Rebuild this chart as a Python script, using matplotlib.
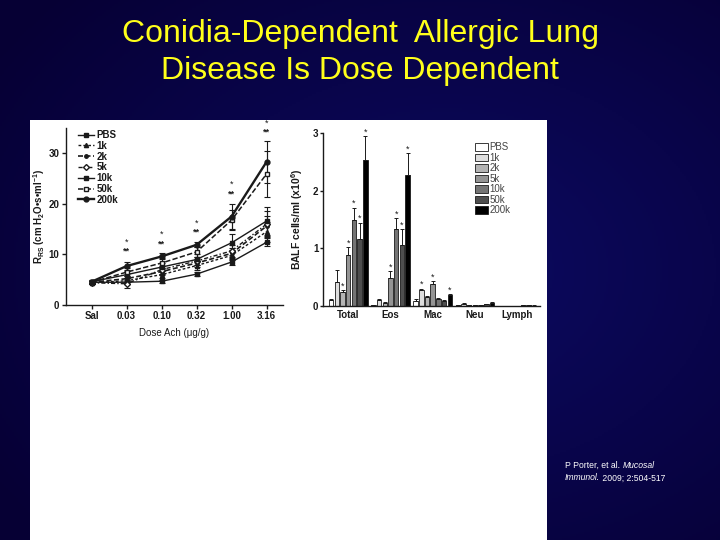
import numpy as np
import matplotlib
matplotlib.use("Agg")
import matplotlib.pyplot as plt
from matplotlib.patches import Rectangle, Patch
from matplotlib.lines import Line2D

plt.rcParams['font.family'] = ['Liberation Sans', 'DejaVu Sans']
plt.rcParams['mathtext.fontset'] = 'custom'
plt.rcParams['mathtext.rm'] = 'Liberation Sans:bold'
plt.rcParams['mathtext.bf'] = 'Liberation Sans:bold'
plt.rcParams['mathtext.it'] = 'Liberation Sans:bold:italic'

# ---------------- data ----------------
title_lines = ["Conidia-Dependent  Allergic Lung", "Disease Is Dose Dependent"]

doses = ['Sal', '0.03', '0.10', '0.32', '1.00', '3.16']
series_names = ['PBS', '1k', '2k', '5k', '10k', '50k', '200k']
rrs_pbs = [4.5, 4.5, 4.7, 6.1, 8.5, 12.4]
rrs_1k = [4.4, 4.8, 6.0, 7.8, 9.8, 14.5]
rrs_2k = [4.5, 5.2, 6.6, 8.3, 10.2, 15.6]
rrs_5k = [4.4, 4.2, 7.0, 8.7, 10.7, 16.0]
rrs_10k = [4.6, 6.0, 7.5, 9.0, 12.3, 16.6]
rrs_50k = [4.5, 6.5, 8.3, 10.5, 16.8, 25.9]
rrs_200k = [4.6, 7.7, 9.6, 11.9, 17.5, 28.3]
err_pbs = [0.3, 0.3, 0.3, 0.4, 0.5, 0.8]
err_1k = [0.3, 0.6, 0.7, 0.8, 1.0, 2.0]
err_2k = [0.3, 0.6, 0.7, 0.8, 1.0, 2.0]
err_5k = [0.3, 0.8, 0.8, 0.8, 1.2, 2.5]
err_10k = [0.3, 0.7, 0.8, 1.0, 1.7, 2.7]
err_50k = [0.3, 0.8, 1.0, 1.0, 2.0, 4.5]
err_200k = [0.3, 0.8, 0.6, 0.5, 2.5, 4.1]
star1_y = [12.4, 13.9, 16.2, 23.8, 36.0]
star2_y = [10.6, 12.1, 14.4, 22.0, 34.2]

cells = ['Total', 'Eos', 'Mac', 'Neu', 'Lymph']
bal_pbs = [0.10, 0.01, 0.08, 0.01, 0.003]
bal_1k = [0.41, 0.10, 0.27, 0.04, 0.005]
bal_2k = [0.24, 0.06, 0.16, 0.02, 0.004]
bal_5k = [0.89, 0.48, 0.39, 0.02, 0.005]
bal_10k = [1.50, 1.33, 0.13, 0.02, 0.010]
bal_50k = [1.17, 1.06, 0.09, 0.03, 0.012]
bal_200k = [2.53, 2.27, 0.19, 0.06, 0.008]
balerr_pbs = [0.03, 0.01, 0.04, 0.005, 0.002]
balerr_1k = [0.21, 0.02, 0.03, 0.005, 0.002]
balerr_2k = [0.03, 0.01, 0.02, 0.005, 0.002]
balerr_5k = [0.13, 0.12, 0.04, 0.005, 0.002]
balerr_10k = [0.21, 0.19, 0.01, 0.005, 0.002]
balerr_50k = [0.28, 0.27, 0.01, 0.005, 0.002]
balerr_200k = [0.42, 0.39, 0.01, 0.01, 0.002]
# (cell index, series index) pairs carrying an asterisk
bal_stars = [(0, 2), (0, 3), (0, 4), (0, 5), (0, 6),
             (1, 3), (1, 4), (1, 5), (1, 6),
             (2, 1), (2, 3), (2, 6)]

citation = [("P Porter, et al. ", "Mucosal"), ("Immunol.", " 2009; 2:504-517")]

# ---------------- figure ----------------
fig = plt.figure(figsize=(7.2, 5.4), dpi=100)

# radial-ish navy background
bg = fig.add_axes([0, 0, 1, 1], zorder=-10)
yy, xx = np.mgrid[0:1:270j, 0:1:360j]
r = np.sqrt(((xx - 0.62) / 0.75) ** 2 + ((yy - 0.5) / 0.75) ** 2)
r = np.clip(r, 0, 1)
bright = np.array([12, 10, 98]) / 255.0
dark = np.array([6, 0, 52]) / 255.0
img = bright[None, None, :] * (1 - r[..., None]) + dark[None, None, :] * r[..., None]
bg.imshow(img, aspect='auto', extent=[0, 1, 0, 1], origin='upper')
bg.set_axis_off()

# white picture panel
fig.patches.append(Rectangle((30 / 720, 0), 517 / 720, 420 / 540,
                             transform=fig.transFigure, facecolor='white',
                             edgecolor='none', zorder=-5))

# title
fig.text(0.5, 1 - 34 / 540, title_lines[0], color='#ffff1a', fontsize=23,
         ha='center', va='center')
fig.text(0.5, 1 - 71 / 540, title_lines[1], color='#ffff1a', fontsize=23,
         ha='center', va='center')

# citation
for i, (a, b) in enumerate(citation):
    y = 1 - (465 + 13 * i) / 540
    if i == 0:
        t1 = fig.text(565 / 720, y, a, color='white', fontsize=6.2, va='center')
        plt.annotate(b, xy=(1, 0.5), xycoords=t1, va='center', ha='left',
                     color='white', fontsize=6.2, style='italic')
    else:
        t2 = fig.text(565 / 720, y, a, color='white', fontsize=6.2,
                      va='center', style='italic')
        plt.annotate(b, xy=(1, 0.5), xycoords=t2, va='center', ha='left',
                     color='white', fontsize=6.2)

ink = '#1a1a1a'

# ---------------- left: line chart ----------------
ax1 = fig.add_axes([65.7 / 720, 1 - 305 / 540, (283 - 65.7) / 720, 177 / 540])
x = np.arange(len(doses))
rrs = [rrs_pbs, rrs_1k, rrs_2k, rrs_5k, rrs_10k, rrs_50k, rrs_200k]
errs = [err_pbs, err_1k, err_2k, err_5k, err_10k, err_50k, err_200k]
styles = [
    dict(ls='-', marker='s', mfc=ink, lw=1.0, ms=2.5),
    dict(ls=(0, (2, 1.5)), marker='^', mfc=ink, lw=1.0, ms=3),
    dict(ls=(0, (3, 1.5)), marker='o', mfc=ink, lw=1.2, ms=2.5),
    dict(ls=(0, (3, 1.5, 1, 1.5)), marker='D', mfc='white', lw=1.0, ms=3),
    dict(ls='-', marker='s', mfc=ink, lw=1.0, ms=3),
    dict(ls=(0, (3.5, 1.5)), marker='s', mfc='white', lw=1.1, ms=3.5),
    dict(ls='-', marker='o', mfc=ink, lw=1.7, ms=3.5),
]
handles = []
for name, yv, ev, st in zip(series_names, rrs, errs, styles):
    ax1.errorbar(x, yv, yerr=ev, color=ink, ls=st['ls'], lw=st['lw'],
                 marker=st['marker'], mfc=st['mfc'], mec=ink, ms=st['ms'],
                 elinewidth=0.8, capsize=2.5, capthick=0.8)
    handles.append(Line2D([], [], color=ink, ls=st['ls'], lw=st['lw'],
                          marker=st['marker'], mfc=st['mfc'], mec=ink,
                          ms=st['ms']))
for i in range(len(star1_y)):
    ax1.text(x[i + 1], star1_y[i], '*', ha='center', va='center',
             fontsize=6.5, color=ink, clip_on=False)
    ax1.text(x[i + 1], star2_y[i], '**', ha='center', va='center',
             fontsize=6.5, color=ink, fontweight='bold', clip_on=False)
ax1.set_xlim(-0.74, 5.47)
ax1.set_ylim(0, 35)
ax1.set_xticks(x)
ax1.set_xticklabels(doses)
ax1.set_yticks([0, 10, 20, 30])
ax1.spines['top'].set_visible(False)
ax1.spines['right'].set_visible(False)
for sp in ax1.spines.values():
    sp.set_linewidth(1.0)
    sp.set_color(ink)
ax1.tick_params(axis='both', labelsize=7, width=1.0, length=3, color=ink,
                labelcolor=ink, pad=1.5)
for lab in ax1.get_xticklabels() + ax1.get_yticklabels():
    lab.set_fontweight('bold')
ax1.set_facecolor('none')
ax1.set_xlabel('Dose Ach (\u03bcg/g)', fontsize=7, color=ink, labelpad=5)
ax1.set_ylabel('R$_{\\mathrm{RS}}$ (cm H$_{\\mathrm{2}}$O\u2022s\u2022ml$^{\\mathrm{-1}}$)',
               fontsize=7, color=ink, fontweight='bold')
ax1.yaxis.set_label_coords(-0.088, 0.5)
leg1 = ax1.legend(handles, series_names, loc='upper left',
                  bbox_to_anchor=(0.04, 1.01), frameon=False, fontsize=7,
                  handlelength=1.6, labelspacing=0.08, handletextpad=0.3,
                  borderaxespad=0)
for txt in leg1.get_texts():
    txt.set_fontweight('bold')
    txt.set_color(ink)

# ---------------- right: bar chart ----------------
ax2 = fig.add_axes([323.3 / 720, 1 - 306 / 540, (540 - 323.3) / 720,
                    (306 - 133.3) / 540])
bals = [bal_pbs, bal_1k, bal_2k, bal_5k, bal_10k, bal_50k, bal_200k]
balerrs = [balerr_pbs, balerr_1k, balerr_2k, balerr_5k, balerr_10k,
           balerr_50k, balerr_200k]
colors = ['white', '#dedede', '#b4b4b4', '#949494', '#747474', '#4e4e4e', '#000000']
gx = np.arange(len(cells))
step = 0.135
width = 0.105
bar_handles = []
for j, (name, vals, ev, c) in enumerate(zip(series_names, bals, balerrs, colors)):
    pos = gx + (j - 3) * step
    ax2.bar(pos, vals, width=width, color=c, edgecolor=ink, linewidth=0.6,
            yerr=[np.zeros(len(ev)), ev], error_kw=dict(ecolor=ink, elinewidth=0.7,
                                                      capsize=1.5, capthick=0.7))
    bar_handles.append(Patch(facecolor=c, edgecolor=ink, linewidth=0.6))
for ci, sj in bal_stars:
    top_y = bals[sj][ci] + balerrs[sj][ci]
    ax2.text(gx[ci] + (sj - 3) * step, top_y + 0.07, '*', ha='center',
             va='center', fontsize=6.5, color=ink, clip_on=False)
ax2.set_xlim(-0.59, 4.54)
ax2.set_ylim(0, 3.0)
ax2.set_xticks(gx)
ax2.set_xticklabels(cells)
ax2.set_yticks([0, 1, 2, 3])
ax2.spines['top'].set_visible(False)
ax2.spines['right'].set_visible(False)
for sp in ax2.spines.values():
    sp.set_linewidth(1.0)
    sp.set_color(ink)
ax2.tick_params(axis='y', labelsize=7, width=1.0, length=2, color=ink,
                labelcolor=ink, pad=1.5)
ax2.tick_params(axis='x', labelsize=7, length=0, labelcolor=ink, pad=3)
for lab in ax2.get_xticklabels() + ax2.get_yticklabels():
    lab.set_fontweight('bold')
ax2.set_facecolor('none')
ax2.set_ylabel('BALF cells/ml (x10$^{\\mathrm{6}}$)', fontsize=7.5,
               color=ink, fontweight='bold', labelpad=6)
leg2 = ax2.legend(bar_handles, series_names, loc='upper left',
                  bbox_to_anchor=(0.68, 0.97), frameon=False, fontsize=7,
                  handlelength=1.4, handleheight=0.8, labelspacing=0.05,
                  handletextpad=0.1, borderaxespad=0)
for txt in leg2.get_texts():
    txt.set_color('#444444')

fig.savefig('out.png', dpi=100)
